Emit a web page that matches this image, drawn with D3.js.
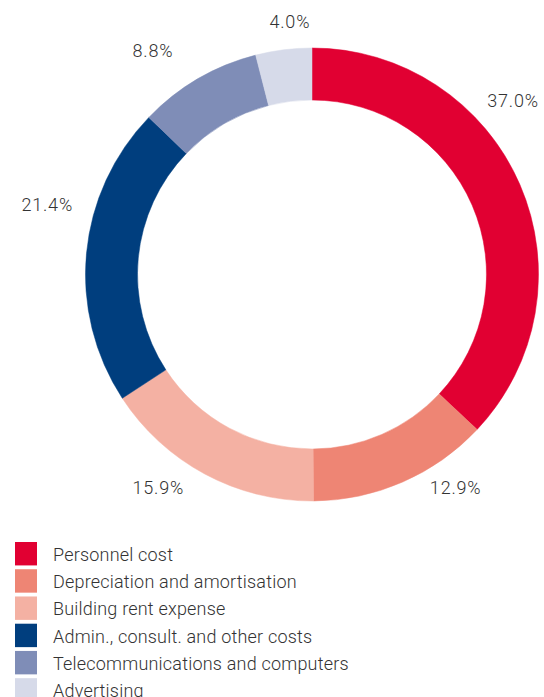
<!DOCTYPE html>
<html lang="en">
    <head>
        <meta charset="utf-8">
        <title>Cost breakdown donut</title>
        <script type="text/javascript" src="https://cdn.jsdelivr.net/npm/d3@7"></script>
        <style>
        body{
            margin:0;
            background-color:white;
        }
        text{
            font-family:"Roboto","Liberation Sans",sans-serif;
            font-weight:300;
            fill:#333333;
        }
        </style>
    </head>
    <body>
        <script type="text/javascript">

        let w = 544;
        let h = 697;

        // data
        let categories = ["Personnel cost","Depreciation and amortisation","Building rent expense",
                          "Admin., consult. and other costs","Telecommunications and computers","Advertising"];
        let shares = [37.0, 12.9, 15.9, 21.4, 8.8, 4.0];
        let colours = ["#e10032","#ee8574","#f4b1a3","#003e7e","#7f8db7","#d6dae9"];

        // label nudges (degrees off the slice middle, and distance from centre)
        let labelTurn = [-17.5, -10.4, 7.5, 9.5, -5.1, 2.2];
        let labelDist = [266, 257, 263, 274, 275, 254];

        let cx = 312, cy = 274.5;
        let outerR = 226.5, innerR = 174.5;

        var svg = d3.select("body")
                    .append("svg")
                    .attr("width", w)
                    .attr("height", h);

        let pie = d3.pie()
                    .sort(null)
                    .value(function(d){ return d; });

        let arcs = pie(shares);

        let arc = d3.arc()
                    .innerRadius(innerR)
                    .outerRadius(outerR);

        let donut = svg.append("g")
                       .attr("transform", "translate(" + cx + "," + cy + ")");

        //the ring
        donut.selectAll("path")
             .data(arcs)
             .enter()
             .append("path")
             .attr("d", arc)
             .attr("fill", function(d,i){ return colours[i]; })
             .attr("stroke", function(d,i){ return colours[i]; })
             .attr("stroke-width", 0.5);

        //percent labels around it
        donut.selectAll("text")
             .data(arcs)
             .enter()
             .append("text")
             .attr("x", function(d,i){
                 let a = (d.startAngle + d.endAngle)/2 + labelTurn[i]*Math.PI/180;
                 return Math.sin(a)*labelDist[i];
             })
             .attr("y", function(d,i){
                 let a = (d.startAngle + d.endAngle)/2 + labelTurn[i]*Math.PI/180;
                 return -Math.cos(a)*labelDist[i];
             })
             .attr("dy", "0.36em")
             .attr("text-anchor", "middle")
             .style("font-size", "18px")
             .style("letter-spacing", "0.8px")
             .text(function(d){ return d.value.toFixed(1) + "%"; });

        //legend underneath
        let rowY = d3.scaleBand()
                     .domain(categories)
                     .range([542, 542 + 26.6*categories.length])
                     .paddingInner(0.14)
                     .paddingOuter(0);

        let legend = svg.append("g");

        legend.selectAll("rect")
              .data(categories)
              .enter()
              .append("rect")
              .attr("x", 15)
              .attr("y", function(d){ return rowY(d); })
              .attr("width", 22)
              .attr("height", rowY.bandwidth())
              .attr("fill", function(d,i){ return colours[i]; });

        legend.selectAll("text")
              .data(categories)
              .enter()
              .append("text")
              .attr("x", 53)
              .attr("y", function(d){ return rowY(d) + 19; })
              .style("font-size", "18px")
              .style("letter-spacing", "0.2px")
              .text(function(d){ return d; });

        </script>
    </body>
</html>
